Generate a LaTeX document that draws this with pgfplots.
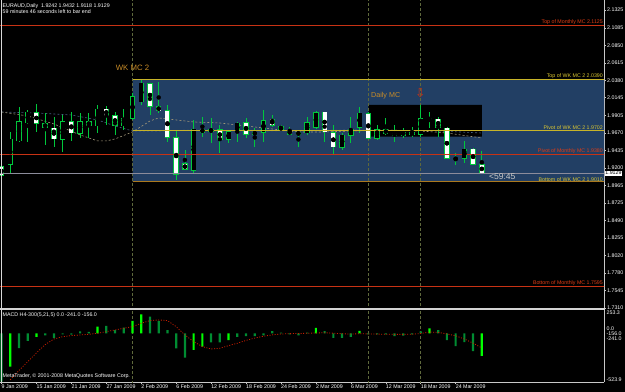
\documentclass[border=0pt]{standalone}
\usepackage{pgfplots}
\usepackage{pgfplotstable}
\pgfplotsset{compat=1.18}
\usepackage{fontspec}
\setmainfont{Liberation Sans}
\newfontfamily\djv{DejaVu Sans}
\definecolor{cg}{RGB}{0,200,60}
\definecolor{zone}{RGB}{34,63,100}
\definecolor{ylw}{RGB}{200,180,40}
\definecolor{ylwtxt}{RGB}{220,200,50}
\definecolor{orgl}{RGB}{170,120,30}
\definecolor{redl}{RGB}{200,50,20}
\definecolor{redt}{RGB}{225,60,20}
\definecolor{bidgray}{RGB}{140,140,155}
\definecolor{vdash}{RGB}{95,105,60}
\definecolor{mctxt}{RGB}{200,140,40}
\definecolor{limeg}{RGB}{0,255,0}
\definecolor{dgreen}{RGB}{0,140,50}
\definecolor{sigred}{RGB}{200,30,0}
\definecolor{axgray}{RGB}{200,200,200}
\definecolor{matan}{RGB}{160,150,120}
\definecolor{mablue}{RGB}{70,95,130}
\newcommand\ft{\fontsize{5.3}{6}\selectfont}
% candles: index, open, high, low, close
\pgfplotstableread{
i O H L C
1 1.9248 1.9687 1.9134 1.9585
2 1.9566 2.0016 1.9552 1.9822
3 1.9808 1.9980 1.9552 1.9948
7 1.9589 1.9912 1.9417 1.9822
9 1.9665 1.9935 1.9598 1.9822
11 1.9768 2.0047 1.9665 1.9989
14 1.9768 1.9989 1.9710 1.9868
15 1.9868 2.0205 1.9845 2.0159
16 2.0091 2.0393 2.0047 2.0339
22 1.9171 1.9845 1.9126 1.9719
24 1.9687 1.9868 1.9539 1.9719
26 1.9585 1.9710 1.9539 1.9687
27 1.9687 1.9822 1.9552 1.9800
29 1.9652 1.9733 1.9485 1.9679
30 1.9679 1.9980 1.9552 1.9835
34 1.9652 1.9687 1.9477 1.9674
35 1.9674 1.9889 1.9643 1.9808
36 1.9746 1.9970 1.9719 1.9943
39 1.9477 1.9665 1.9440 1.9638
40 1.9643 1.9889 1.9531 1.9719
41 1.9746 2.0016 1.9665 1.9935
43 1.9598 1.9777 1.9575 1.9710
46 1.9643 1.9733 1.9598 1.9679
48 1.9652 2.0047 1.9620 1.9858
49 1.9849 1.9957 1.9733 1.9868
53 1.9329 1.9566 1.9261 1.9450
}\bulls
\pgfplotstableread{
i O H L C
0 1.9215 1.9306 1.8996 1.9103
4 1.9943 2.0056 1.9687 1.9800
5 1.9791 1.9935 1.9508 1.9746
6 1.9733 1.9889 1.9485 1.9593
8 1.9822 1.9948 1.9566 1.9674
10 1.9822 1.9943 1.9598 1.9768
12 1.9989 2.0033 1.9777 1.9903
13 1.9899 1.9957 1.9643 1.9777
17 2.0330 2.0345 1.9912 2.0033
18 2.0024 2.0361 1.9935 1.9970
19 1.9970 2.0047 1.9552 1.9612
20 1.9606 1.9710 1.9036 1.9113
21 1.9252 1.9440 1.9171 1.9180
23 1.9719 1.9889 1.9620 1.9679
25 1.9710 1.9777 1.9396 1.9585
28 1.9808 1.9868 1.9598 1.9656
31 1.9854 1.9912 1.9754 1.9773
32 1.9754 1.9777 1.9700 1.9710
33 1.9700 1.9754 1.9643 1.9656
37 1.9948 1.9957 1.9552 1.9687
38 1.9674 1.9777 1.9373 1.9485
42 1.9925 1.9957 1.9585 1.9598
44 1.9710 1.9868 1.9643 1.9665
45 1.9665 1.9777 1.9552 1.9633
47 1.9674 1.9746 1.9620 1.9652
50 1.9854 1.9889 1.9620 1.9746
51 1.9733 1.9746 1.9315 1.9329
52 1.9329 1.9396 1.9238 1.9315
54 1.9450 1.9463 1.9238 1.9248
55 1.9242 1.9432 1.9118 1.9129
}\bears
\pgfplotsset{
  wick/.style={only marks, mark=none, error bars/y dir=both, error bars/y explicit, error bars/error mark=none, error bars/error bar style={cg, line width=0.7bp, solid}},
  bodyout/.style={only marks, mark=none, error bars/y dir=both, error bars/y explicit, error bars/error mark=none, error bars/error bar style={cg, line width=5.4bp, solid, line cap=butt}},
  bodyin/.style={only marks, mark=none, error bars/y dir=both, error bars/y explicit, error bars/error mark=none, error bars/error bar style={#1, line width=3.9bp, solid, line cap=butt}},
}
\begin{document}
\begin{tikzpicture}
\fill[black] (0,0) rectangle (625bp,392bp);
% ---------------- main price panel ----------------
\begin{axis}[
  at={(0,84bp)}, anchor=south west, scale only axis, width=604bp, height=308bp,
  xmin=-0.172, xmax=68.99, ymin=1.7310, ymax=2.1462,
  axis x line=none, axis y line*=right, axis line style={-, axgray, line width=0.8bp},
  ytick={2.1325,2.1085,2.0850,2.0615,2.0380,2.0145,1.9905,1.9670,1.9435,1.9200,1.8965,1.8725,1.8490,1.8255,1.8020,1.7780,1.7545,1.7310},
  yticklabels={2.1325,2.1085,2.0850,2.0615,2.0380,2.0145,1.9905,1.9670,1.9435,1.9200,1.8965,1.8725,1.8490,1.8255,1.8020,1.7780,1.7545,1.7310},
  yticklabel style={font=\ft, text=white, anchor=west, inner sep=0.5bp, xshift=0.5bp},
  tick style={axgray, line width=0.5bp}, tick align=outside, major tick length=2bp,
  clip=true,
]
% zones
\addplot[fill=zone, draw=none] coordinates {(15,2.0390) (70,2.0390) (70,1.9010) (15,1.9010) (15,2.0390)};
\addplot[fill=black, draw=none] coordinates {(42,2.0047) (55,2.0047) (55,1.9620) (42,1.9620) (42,2.0047)};
% vertical separators
\addplot[vdash, dash pattern=on 3bp off 2bp, line width=0.6bp] coordinates {(15,1.70) (15,2.20)};
\addplot[vdash, dash pattern=on 3bp off 2bp, line width=0.6bp] coordinates {(42,1.70) (42,2.20)};
\addplot[vdash, dash pattern=on 3bp off 2bp, line width=0.6bp] coordinates {(48,1.70) (48,2.20)};
% moving averages
\addplot[mablue, dash pattern=on 2bp off 2bp, line width=0.6bp] coordinates {(0,1.9952) (4,1.9939) (8,1.9912) (11,1.9845) (13,1.9764) (15,1.9696) (18,1.9696) (22,1.9710) (30,1.9696) (40,1.9710) (50,1.9696) (55,1.9669)};
\addplot[matan, dash pattern=on 2bp off 2bp, line width=0.6bp] coordinates {(0,1.9952) (3,1.9899) (6,1.9791) (9,1.9643) (11,1.9562) (12,1.9562) (13,1.9589) (15,1.9683) (17,1.9831) (18,1.9872) (20,1.9845) (22,1.9818) (25,1.9804) (28,1.9764) (31,1.9723) (34,1.9683) (37,1.9683) (40,1.9696) (44,1.9710) (48,1.9696) (51,1.9669) (55,1.9602)};
% candles
\addplot[wick] table[x=i, y expr={(\thisrow{H}+\thisrow{L})/2}, y error expr={(\thisrow{H}-\thisrow{L})/2}] {\bulls};
\addplot[wick] table[x=i, y expr={(\thisrow{H}+\thisrow{L})/2}, y error expr={(\thisrow{H}-\thisrow{L})/2}] {\bears};
\addplot[bodyout] table[x=i, y expr={(\thisrow{O}+\thisrow{C})/2}, y error expr={abs(\thisrow{C}-\thisrow{O})/2+0.0009}] {\bulls};
\addplot[bodyout] table[x=i, y expr={(\thisrow{O}+\thisrow{C})/2}, y error expr={abs(\thisrow{C}-\thisrow{O})/2+0.0009}] {\bears};
\addplot[bodyin=black] table[x=i, y expr={(\thisrow{O}+\thisrow{C})/2}, y error expr={abs(\thisrow{C}-\thisrow{O})/2}] {\bulls};
\addplot[bodyin=white] table[x=i, y expr={(\thisrow{O}+\thisrow{C})/2}, y error expr={abs(\thisrow{C}-\thisrow{O})/2}] {\bears};
% level lines
\addplot[redl, line width=0.8bp] coordinates {(-1,2.1125) (70,2.1125)};
\addplot[ylw, line width=0.8bp] coordinates {(15,2.0390) (70,2.0390)};
\addplot[ylw, line width=0.8bp] coordinates {(15,1.9702) (70,1.9702)};
\addplot[redl, line width=0.8bp] coordinates {(-1,1.9380) (70,1.9380)};
\addplot[orgl, line width=0.8bp] coordinates {(15,1.9010) (70,1.9010)};
\addplot[redl, line width=0.8bp] coordinates {(-1,1.7595) (70,1.7595)};
\addplot[bidgray, line width=0.6bp] coordinates {(-1,1.9129) (70,1.9129)};
% level labels
\node[font=\ft, text=redt, anchor=south east, inner sep=0.6bp] at (axis cs:68.95,2.1125) {Top of Monthly MC 2.1125};
\node[font=\ft, text=ylwtxt, anchor=south east, inner sep=0.6bp] at (axis cs:68.95,2.0390) {Top of WK MC 2 2.0390};
\node[font=\ft, text=ylwtxt, anchor=south east, inner sep=0.6bp] at (axis cs:68.95,1.9702) {Pivot of WK MC 2 1.9702};
\node[font=\ft, text=redt, anchor=south east, inner sep=0.6bp] at (axis cs:68.95,1.9380) {Pivot of Monthly MC 1.9380};
\node[font=\ft, text=ylwtxt, anchor=south east, inner sep=0.6bp] at (axis cs:68.95,1.9010) {Bottom of WK MC 2 1.9010};
\node[font=\ft, text=redt, anchor=south east, inner sep=0.6bp] at (axis cs:68.95,1.7595) {Bottom of Monthly MC 1.7595};
\node[font=\fontsize{7.8}{9}\selectfont, text=mctxt, inner sep=0] at (axis cs:15,2.0552) {WK MC 2};
\node[font=\fontsize{7.2}{8}\selectfont, text=mctxt, anchor=west, inner sep=0] at (axis cs:42.3,2.0168) {Daily MC};
\node[font=\djv\fontsize{12.5}{13}\selectfont, text=redl, inner sep=0] at (axis cs:47.95,2.0200) {⇩};
\node[font=\fontsize{8.6}{10}\selectfont, text=axgray, anchor=west, inner sep=0] at (axis cs:55.8,1.9077) {<59:45};
\coordinate (bid) at (axis cs:68.99,1.9129);
\end{axis}
\fill[axgray!80] (0,82bp) rectangle (604.5bp,84.3bp);
\draw[axgray!70, line width=0.8bp] (1bp,84bp) -- (1bp,392bp);
\node[font=\ft, fill=white, text=black, anchor=west, inner sep=0.6bp] at ([xshift=0.6bp]bid) {1.9129};
\node[font=\ft, text=white, anchor=west, inner sep=0] at (2.5bp,386.3bp) {EURAUD,Daily\ \ 1.9242 1.9432 1.9118 1.9129};
\node[font=\ft, text=white, anchor=west, inner sep=0] at (2.5bp,380.2bp) {59 minutes 46 seconds left to bar end};
% ---------------- MACD panel ----------------
\begin{axis}[
  at={(0,10bp)}, anchor=south west, scale only axis, width=604bp, height=72bp,
  xmin=-0.172, xmax=68.99, ymin=-523.9, ymax=253.3,
  axis x line*=bottom, axis y line*=right, axis line style={-, axgray, line width=0.7bp},
  ytick=\empty,
  xtick={0,4,8,12,16,20,24,28,32,36,40,44,48,52},
  xticklabels={9 Jan 2009,15 Jan 2009,21 Jan 2009,27 Jan 2009,2 Feb 2009,6 Feb 2009,12 Feb 2009,18 Feb 2009,24 Feb 2009,2 Mar 2009,6 Mar 2009,12 Mar 2009,18 Mar 2009,24 Mar 2009},
  xticklabel style={font=\ft, text=white, anchor=north west, inner sep=0.5bp, xshift=-0.5bp},
  tick style={axgray, line width=0.5bp}, tick align=outside, major tick length=2bp,
  clip=true,
]
\addplot[vdash, dash pattern=on 3bp off 2bp, line width=0.6bp] coordinates {(15,-600) (15,300)};
\addplot[vdash, dash pattern=on 3bp off 2bp, line width=0.6bp] coordinates {(42,-600) (42,300)};
\addplot[vdash, dash pattern=on 3bp off 2bp, line width=0.6bp] coordinates {(48,-600) (48,300)};
\addplot[ybar, bar width=2.2bp, bar shift=0pt, fill=dgreen, draw=none] coordinates {
(0,-520) (2,-157) (3,-81) (5,-20) (6,-49) (7,-10) (8,-12) (9,22) (10,18) (12,81) (13,36) (14,63) (17,181) (18,135) (19,36) (20,-160) (21,-261) (24,-95) (25,-95) (27,-36) (28,-29) (29,-29) (30,-20) (31,25) (32,10) (33,-10) (34,-20) (35,10) (37,25) (38,-47) (39,-47) (40,-36) (42,-10) (43,-11) (44,-10) (45,-29) (46,-22) (47,-10) (48,22) (50,36) (51,-72) (52,-137) (53,-94) (54,-191)};
\addplot[ybar, bar width=2.2bp, bar shift=0pt, fill=limeg, draw=none] coordinates {
(1,-359) (4,-38) (11,73) (15,135) (16,207) (22,-178) (23,-143) (26,-72) (36,61) (41,29) (49,54) (55,-241)};
\addplot[sigred, dash pattern=on 1bp off 1.6bp, line width=0.8bp] coordinates {
(1,-500) (2,-400) (3,-304) (4,-210) (5,-120) (6,-60) (7,-35) (8,-23) (9,-16) (10,-9) (11,2) (12,20) (13,38) (14,56) (15,74) (16,110) (17,139) (18,146) (19,139) (20,74) (21,-16) (22,-88) (23,-142) (24,-167) (25,-160) (26,-131) (27,-106) (28,-75) (29,-50) (30,-30) (31,-15) (32,-6) (33,-2) (34,0) (35,2) (36,5) (37,8) (38,3) (39,-3) (40,-6) (41,-3) (42,-5) (43,-7) (44,-8) (45,-10) (46,-10) (47,-8) (48,0) (49,15) (50,12) (51,-5) (52,-25) (53,-60) (54,-105) (55,-156)};
\end{axis}
\draw[axgray!70, line width=0.8bp] (1bp,10bp) -- (1bp,82bp);
\node[font=\ft, text=white, anchor=west, inner sep=0] at (2.5bp,76.5bp) {MACD H4-300(5,21,5) 0.0 -241.0 -156.0};
\node[font=\ft, text=white, anchor=west, inner sep=0] at (2.5bp,16bp) {MetaTrader, © 2001-2008 MetaQuotes Software Corp.};
\node[font=\ft, text=white, anchor=west, inner sep=0] at (606.5bp,79bp) {253.3};
\node[font=\ft, text=white, anchor=west, inner sep=0] at (606.5bp,12.5bp) {-523.9};
\node[font=\ft, text=white, anchor=west, inner sep=0] at (606.5bp,63bp) {0.0};
\node[font=\ft, text=white, anchor=west, inner sep=0] at (606.5bp,58bp) {-156.0};
\node[font=\ft, text=white, anchor=west, inner sep=0] at (606.5bp,53bp) {-241.0};
\pgfresetboundingbox
\path[use as bounding box] (0,0) rectangle (625bp,392bp);
\end{tikzpicture}
\end{document}
